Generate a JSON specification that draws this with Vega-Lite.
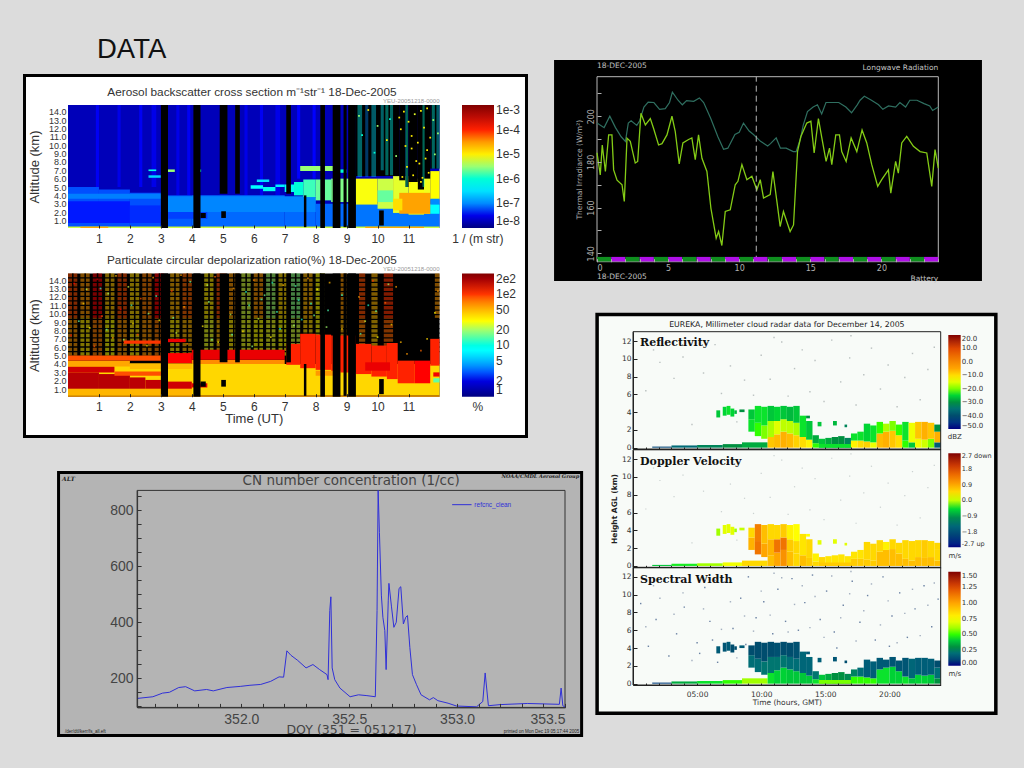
{
"$schema":"https://vega.github.io/schema/vega-lite/v6.json",
"width":1024,"height":768,"padding":0,"autosize":"none","background":"#dcdcdc",
"title":{"text":"DATA","anchor":"start","frame":"group","dx":97,"dy":67,"fontSize":27.5,"font":"Liberation Sans","fontWeight":"normal","color":"#111111"},
"config":{"view":{"stroke":null},"axis":{"grid":false,"labelFont":"Liberation Sans","titleFont":"Liberation Sans","titleFontWeight":"normal"},"legend":{"labelFont":"Liberation Sans"},"text":{"font":"Liberation Sans"}},
"datasets":{
"lb":[
{"x":0,"x2":12,"y":0.1,"y2":14.8,"v":-7.72},
{"x":0.9,"x2":1,"y":5,"y2":14.8,"v":-7.45},{"x":1.6,"x2":1.7,"y":5,"y2":14.8,"v":-7.5},{"x":2.3,"x2":2.4,"y":5,"y2":14.8,"v":-7.45},{"x":2.7,"x2":2.85,"y":5,"y2":14.8,"v":-7.5},{"x":3.5,"x2":3.6,"y":4,"y2":14.8,"v":-7.5},{"x":3.85,"x2":3.95,"y":4,"y2":14.8,"v":-7.45},{"x":5.7,"x2":5.8,"y":4,"y2":14.8,"v":-7.5},{"x":6.2,"x2":6.3,"y":4,"y2":14.8,"v":-7.45},{"x":6.7,"x2":6.85,"y":4,"y2":14.8,"v":-7.5},{"x":7.4,"x2":7.5,"y":6,"y2":14.8,"v":-7.4},{"x":7.9,"x2":8,"y":6,"y2":14.8,"v":-7.4},
{"x":0,"x2":1,"y":0.25,"y2":5,"v":-7.25},{"x":1,"x2":2,"y":0.25,"y2":4.7,"v":-7.25},{"x":2,"x2":3,"y":0.25,"y2":4.3,"v":-7.25},{"x":3,"x2":4,"y":0.25,"y2":4,"v":-7.2},{"x":4,"x2":7,"y":0.25,"y2":4,"v":-7.15},{"x":7,"x2":8,"y":0.25,"y2":3.7,"v":-7.15},{"x":8,"x2":9.3,"y":0.25,"y2":3,"v":-7.15},{"x":9.3,"x2":12,"y":0.25,"y2":3,"v":-7.1},
{"x":0,"x2":2,"y":0.7,"y2":3.3,"v":-7.38},{"x":2,"x2":3,"y":0.7,"y2":2.8,"v":-7.35},{"x":3,"x2":4.5,"y":1.2,"y2":2,"v":-7.3},
{"x":0,"x2":3,"y":3.6,"y2":4.2,"v":-7.05},{"x":3,"x2":8,"y":2,"y2":3.9,"v":-7.02},
{"x":0,"x2":12,"y":0.1,"y2":0.28,"v":-5.3},{"x":0.4,"x2":1.3,"y":0.1,"y2":0.25,"v":-4.6},{"x":9.6,"x2":11.5,"y":0.1,"y2":0.25,"v":-4.6},
{"x":2.6,"x2":2.85,"y":6.9,"y2":7.1,"v":-6.1},{"x":3.2,"x2":3.45,"y":6.8,"y2":7.1,"v":-5.5},{"x":4.1,"x2":4.3,"y":6.8,"y2":7.1,"v":-6},{"x":2.6,"x2":3,"y":6.1,"y2":6.4,"v":-6.6},
{"x":6.1,"x2":6.5,"y":5.6,"y2":5.9,"v":-6.5},{"x":5.9,"x2":6.3,"y":4.8,"y2":5.2,"v":-6.3},{"x":6.3,"x2":6.7,"y":4.5,"y2":5,"v":-6.2},{"x":6.7,"x2":7,"y":5,"y2":5.3,"v":-6.4},
{"x":7,"x2":7.3,"y":4.4,"y2":5.3,"v":-6.2},{"x":7.3,"x2":7.6,"y":4,"y2":5.6,"v":-6},{"x":7.6,"x2":8,"y":3.8,"y2":5.9,"v":-5.85},{"x":8,"x2":8.5,"y":3.4,"y2":5.9,"v":-5.7},{"x":8.5,"x2":9.3,"y":3.2,"y2":6,"v":-5.6},
{"x":7.5,"x2":8.6,"y":6.9,"y2":7.5,"v":-5.5},{"x":8.6,"x2":9,"y":6.7,"y2":7.1,"v":-6},
{"x":9.3,"x2":10,"y":2.9,"y2":6,"v":-5.12},{"x":10,"x2":10.5,"y":2.4,"y2":6,"v":-5.3},{"x":10.5,"x2":11,"y":1.9,"y2":6.3,"v":-5.2},{"x":11,"x2":11.5,"y":1.7,"y2":6,"v":-5.12},{"x":11.5,"x2":11.7,"y":1.8,"y2":6.4,"v":-5.15},{"x":11.7,"x2":12,"y":3.5,"y2":6.9,"v":-5.1},
{"x":11.7,"x2":12,"y":2.9,"y2":3.6,"v":-7},{"x":11.7,"x2":12,"y":1.8,"y2":2.9,"v":-6.3},
{"x":10,"x2":10.5,"y":3.2,"y2":4.6,"v":-5.7},{"x":10.7,"x2":11.7,"y":1.8,"y2":4.3,"v":-4.55},{"x":10.5,"x2":10.8,"y":2.2,"y2":3.6,"v":-4.9}
],
"lbd":[
{"x":9.35,"x2":9.5,"y":6.2,"y2":14.8,"v":-6.3},{"x":9.6,"x2":9.7,"y":6.2,"y2":14.8,"v":-7},{"x":9.8,"x2":9.95,"y":6.2,"y2":14.8,"v":-6.5},{"x":10.1,"x2":10.2,"y":7,"y2":14.8,"v":-6.4},{"x":10.25,"x2":10.35,"y":6.4,"y2":14.8,"v":-6.1},{"x":10.4,"x2":10.5,"y":6.4,"y2":14.8,"v":-6.2},{"x":10.9,"x2":10.98,"y":5,"y2":14.8,"v":-6},{"x":11.45,"x2":11.52,"y":5,"y2":14.8,"v":-6},{"x":11.75,"x2":11.85,"y":7.2,"y2":14.8,"v":-6.2},{"x":11.9,"x2":12,"y":7.2,"y2":14.8,"v":-6.5}
],
"lbs":[
{"x":9.4,"y":13.5,"v":-5.5},{"x":9.5,"y":11.2,"v":-6},{"x":9.7,"y":14.2,"v":-5},{"x":9.9,"y":9.1,"v":-6},{"x":10,"y":12.3,"v":-5.5},{"x":10.3,"y":10.6,"v":-5},{"x":10.4,"y":13.1,"v":-6},{"x":10.6,"y":8.7,"v":-5.5},{"x":10.75,"y":11.9,"v":-5},{"x":10.85,"y":14,"v":-5},{"x":10.95,"y":7.4,"v":-5},{"x":11,"y":12.8,"v":-5},{"x":11.1,"y":9.6,"v":-5},{"x":11.15,"y":6.4,"v":-5},{"x":11.2,"y":13.7,"v":-5.2},{"x":11.3,"y":10.3,"v":-5},{"x":11.35,"y":7.8,"v":-5},{"x":11.4,"y":5.6,"v":-5},{"x":11.5,"y":12.1,"v":-5},{"x":11.55,"y":8.4,"v":-5},{"x":11.6,"y":14.4,"v":-5},{"x":11.65,"y":6.7,"v":-5},{"x":11.7,"y":10.9,"v":-5},{"x":11.8,"y":13,"v":-5.5},{"x":11.85,"y":8.9,"v":-5.5},{"x":11.95,"y":11.4,"v":-5.5},{"x":10.8,"y":6.2,"v":-5},{"x":10.9,"y":9.9,"v":-5},{"x":11.05,"y":5.5,"v":-5},{"x":11.25,"y":8.1,"v":-5},{"x":11.45,"y":6.1,"v":-5},{"x":10.7,"y":13.3,"v":-5},{"x":11.1,"y":11.1,"v":-5},{"x":11.4,"y":14.1,"v":-5},{"x":11.6,"y":9.4,"v":-5}
],
"black":[
{"x":3,"x2":3.23,"y":0.1,"y2":14.8},{"x":4.05,"x2":4.28,"y":0.1,"y2":14.8},{"x":4.9,"x2":5.15,"y":4.2,"y2":14.8},{"x":5.4,"x2":5.55,"y":4.2,"y2":14.8},{"x":7.05,"x2":7.2,"y":4.2,"y2":14.8},{"x":7.62,"x2":7.7,"y":0.2,"y2":4},{"x":8.15,"x2":8.3,"y":0.1,"y2":14.8},{"x":8.55,"x2":8.8,"y":0.1,"y2":14.8},{"x":8.9,"x2":9,"y":0.2,"y2":14.8},{"x":9.05,"x2":9.3,"y":0.1,"y2":14.8},{"x":10.05,"x2":10.2,"y":0.4,"y2":2.2},{"x":4.28,"x2":4.45,"y":1.3,"y2":1.9},{"x":4.95,"x2":5.1,"y":1.3,"y2":2.1}
],
"blackR":[{"x":9.3,"x2":10.7,"y":6.3,"y2":14.8},{"x":10.7,"x2":10.9,"y":5.8,"y2":14.8},{"x":10.9,"x2":11,"y":5,"y2":14.8},{"x":11,"x2":11.3,"y":5.6,"y2":14.8},{"x":11.3,"x2":11.5,"y":4.7,"y2":14.8},{"x":11.5,"x2":11.7,"y":6,"y2":14.8},{"x":11.7,"x2":12,"y":7.2,"y2":14.8}],
"hatch":[
{"x":0.13,"x2":0.18,"y":5,"y2":14.8},{"x":0.53,"x2":0.58,"y":5,"y2":14.8},{"x":0.93,"x2":0.98,"y":5,"y2":14.8},{"x":1.33,"x2":1.38,"y":5,"y2":14.8},{"x":1.73,"x2":1.78,"y":5,"y2":14.8},{"x":2.13,"x2":2.18,"y":5,"y2":14.8},{"x":2.53,"x2":2.58,"y":5,"y2":14.8},{"x":2.93,"x2":2.98,"y":5,"y2":14.8},{"x":3.43,"x2":3.48,"y":5,"y2":14.8},{"x":3.83,"x2":3.88,"y":5,"y2":14.8},{"x":4.53,"x2":4.58,"y":5,"y2":14.8},{"x":5.33,"x2":5.38,"y":5,"y2":14.8},{"x":5.73,"x2":5.78,"y":5,"y2":14.8},{"x":6.13,"x2":6.18,"y":5,"y2":14.8},{"x":6.53,"x2":6.58,"y":5,"y2":14.8},{"x":6.93,"x2":6.98,"y":5,"y2":14.8},{"x":7.33,"x2":7.38,"y":5,"y2":14.8},{"x":7.73,"x2":7.78,"y":5,"y2":14.8},{"x":8.13,"x2":8.18,"y":5,"y2":14.8},
{"x":0,"x2":12,"y":5.4,"y2":5.55},{"x":0,"x2":12,"y":5.95,"y2":6.1},{"x":0,"x2":12,"y":6.5,"y2":6.65},{"x":0,"x2":12,"y":7.05,"y2":7.2},{"x":0,"x2":12,"y":7.6,"y2":7.75},{"x":0,"x2":12,"y":8.15,"y2":8.3},{"x":0,"x2":12,"y":8.7,"y2":8.85},{"x":0,"x2":12,"y":9.25,"y2":9.4},{"x":0,"x2":12,"y":9.8,"y2":9.95},{"x":0,"x2":12,"y":10.35,"y2":10.5},{"x":0,"x2":12,"y":10.9,"y2":11.05},{"x":0,"x2":12,"y":11.45,"y2":11.6},{"x":0,"x2":12,"y":12,"y2":12.15},{"x":0,"x2":12,"y":12.55,"y2":12.7},{"x":0,"x2":12,"y":13.1,"y2":13.25},{"x":0,"x2":12,"y":13.65,"y2":13.8},{"x":0,"x2":12,"y":14.2,"y2":14.35}
],
"pdd":[
{"x":0,"x2":0.3,"y":9.5,"y2":14.8,"v":90},{"x":0.4,"x2":0.7,"y":9.5,"y2":14.8,"v":60},{"x":0.8,"x2":1.1,"y":9.5,"y2":14.8,"v":120},{"x":1.2,"x2":1.5,"y":9.5,"y2":14.8,"v":45},{"x":1.6,"x2":1.9,"y":9.5,"y2":14.8,"v":90},{"x":2,"x2":2.3,"y":9.5,"y2":14.8,"v":40},{"x":2.4,"x2":2.7,"y":9.5,"y2":14.8,"v":70},{"x":2.8,"x2":3.1,"y":9.5,"y2":14.8,"v":110},{"x":3.3,"x2":3.6,"y":9.5,"y2":14.8,"v":50},{"x":3.7,"x2":4,"y":9.5,"y2":14.8,"v":80},{"x":4.4,"x2":4.7,"y":9.5,"y2":14.8,"v":35},{"x":4.8,"x2":5.1,"y":9.5,"y2":14.8,"v":90},{"x":5.2,"x2":5.5,"y":9.5,"y2":14.8,"v":60},{"x":5.6,"x2":5.9,"y":9.5,"y2":14.8,"v":25},{"x":6,"x2":6.3,"y":9.5,"y2":14.8,"v":60},{"x":6.4,"x2":6.7,"y":9.5,"y2":14.8,"v":20},{"x":6.8,"x2":7.1,"y":9.5,"y2":14.8,"v":40},{"x":7.2,"x2":7.5,"y":9.5,"y2":14.8,"v":18},{"x":7.6,"x2":7.9,"y":9.5,"y2":14.8,"v":50},{"x":8,"x2":8.3,"y":9.5,"y2":14.8,"v":30},{"x":8.8,"x2":9,"y":9.5,"y2":14.8,"v":60},{"x":9.4,"x2":9.6,"y":9.5,"y2":14.8,"v":90},{"x":9.8,"x2":10,"y":9.5,"y2":14.8,"v":50},{"x":10.2,"x2":10.5,"y":9.5,"y2":14.8,"v":100},{"x":11.85,"x2":12,"y":9.5,"y2":14.8,"v":60},
{"x":0,"x2":0.3,"y":5,"y2":9.5,"v":60},{"x":0.4,"x2":0.7,"y":5,"y2":9.5,"v":35},{"x":0.8,"x2":1.1,"y":5,"y2":9.5,"v":70},{"x":1.2,"x2":1.5,"y":5,"y2":9.5,"v":30},{"x":1.6,"x2":1.9,"y":5,"y2":9.5,"v":60},{"x":2,"x2":2.3,"y":5,"y2":9.5,"v":35},{"x":2.4,"x2":2.7,"y":5,"y2":9.5,"v":60},{"x":2.8,"x2":3.1,"y":5,"y2":9.5,"v":70},{"x":3.3,"x2":3.6,"y":5,"y2":9.5,"v":35},{"x":3.7,"x2":4,"y":5,"y2":9.5,"v":50},{"x":4.4,"x2":4.7,"y":5,"y2":9.5,"v":28},{"x":4.8,"x2":5.1,"y":5,"y2":9.5,"v":50},{"x":5.2,"x2":5.5,"y":5,"y2":9.5,"v":35},{"x":5.6,"x2":5.9,"y":5,"y2":9.5,"v":28},{"x":6,"x2":6.3,"y":5,"y2":9.5,"v":30},{"x":6.4,"x2":6.7,"y":5,"y2":9.5,"v":28},{"x":6.8,"x2":7.1,"y":5,"y2":9.5,"v":30},{"x":7.2,"x2":7.5,"y":6,"y2":9.5,"v":25},{"x":7.6,"x2":7.9,"y":7,"y2":9.5,"v":40},{"x":8,"x2":8.3,"y":7,"y2":9.5,"v":30},{"x":8.8,"x2":9,"y":7,"y2":9.5,"v":50},{"x":9.4,"x2":9.6,"y":6,"y2":9.5,"v":70},{"x":9.8,"x2":10,"y":6,"y2":9.5,"v":45},{"x":10.2,"x2":10.5,"y":6,"y2":9.5,"v":80}
],
"pd":[
{"x":0,"x2":12,"y":0.25,"y2":4,"v":40},{"x":0,"x2":12,"y":0.1,"y2":0.25,"v":60},{"x":0,"x2":4,"y":0.25,"y2":1.05,"v":50},
{"x":0,"x2":1,"y":1.05,"y2":3,"v":175},{"x":1,"x2":2,"y":1.05,"y2":2.8,"v":175},{"x":2,"x2":2.5,"y":1.05,"y2":2.4,"v":170},{"x":2.5,"x2":3,"y":1.05,"y2":2.1,"v":165},{"x":3,"x2":4,"y":1.05,"y2":1.9,"v":150},{"x":4,"x2":4.5,"y":1.2,"y2":1.7,"v":130},
{"x":0,"x2":1.5,"y":3,"y2":3.7,"v":150},{"x":1.5,"x2":3,"y":2.6,"y2":3.1,"v":90},{"x":0,"x2":2,"y":3.7,"y2":4.4,"v":55},{"x":2,"x2":4,"y":3.4,"y2":4.1,"v":48},
{"x":0,"x2":3,"y":4.4,"y2":5,"v":90},{"x":3,"x2":4,"y":4.1,"y2":5.3,"v":110},{"x":4,"x2":7,"y":4,"y2":4.5,"v":65},{"x":4,"x2":7,"y":4.5,"y2":5.7,"v":125},{"x":3,"x2":3.8,"y":6.6,"y2":7,"v":120},{"x":1.8,"x2":3,"y":6.4,"y2":6.8,"v":100},
{"x":7.05,"x2":7.5,"y":3.9,"y2":6.4,"v":105},{"x":7.5,"x2":8,"y":3.5,"y2":7.6,"v":105},{"x":8,"x2":8.5,"y":3.3,"y2":7.5,"v":105},{"x":8.5,"x2":9.3,"y":3,"y2":7.4,"v":105},{"x":9.3,"x2":9.8,"y":2.8,"y2":6.4,"v":105},{"x":9.8,"x2":10.3,"y":2.5,"y2":6.2,"v":105},{"x":10.3,"x2":10.65,"y":2.2,"y2":6.5,"v":105},{"x":10.65,"x2":11.2,"y":1.7,"y2":4.4,"v":105},{"x":11.2,"x2":11.7,"y":1.7,"y2":4.4,"v":110},{"x":11.7,"x2":12,"y":3.8,"y2":7,"v":105},
{"x":9.6,"x2":10.4,"y":3.2,"y2":4.2,"v":125},{"x":8,"x2":8.8,"y":2.6,"y2":3.2,"v":60},{"x":11.8,"x2":12,"y":2.5,"y2":3,"v":120},{"x":11.8,"x2":12,"y":1.8,"y2":2.3,"v":15}
],
"pds":[
{"x":0.2,"y":13.6,"v":110},{"x":0.5,"y":11.2,"v":40},{"x":0.7,"y":8.3,"v":30},{"x":0.95,"y":14.1,"v":150},{"x":1.1,"y":9.7,"v":90},{"x":1.3,"y":12.4,"v":20},{"x":1.45,"y":7.1,"v":60},{"x":1.7,"y":10.5,"v":110},{"x":1.95,"y":13.2,"v":25},{"x":2.1,"y":8.8,"v":35},{"x":2.35,"y":11.8,"v":90},{"x":2.55,"y":6.2,"v":40},{"x":2.75,"y":14.3,"v":60},{"x":2.95,"y":9.2,"v":30},{"x":3.35,"y":12.7,"v":100},{"x":3.5,"y":7.7,"v":25},{"x":3.75,"y":10.8,"v":60},{"x":3.95,"y":13.8,"v":15},{"x":4.35,"y":8.5,"v":35},{"x":4.55,"y":11.4,"v":18},{"x":4.75,"y":14.4,"v":80},{"x":4.85,"y":6.6,"v":30},{"x":5.25,"y":9.9,"v":22},{"x":5.35,"y":13,"v":60},{"x":5.65,"y":7.9,"v":40},{"x":5.85,"y":11,"v":14},{"x":6,"y":14,"v":70},{"x":6.15,"y":9.4,"v":25},{"x":6.35,"y":12.2,"v":16},{"x":6.55,"y":7.2,"v":35},{"x":6.75,"y":10.2,"v":13},{"x":6.95,"y":13.4,"v":50},{"x":7.3,"y":8.6,"v":20},{"x":7.45,"y":11.6,"v":12},{"x":7.75,"y":14.2,"v":60},{"x":7.95,"y":9.8,"v":16},{"x":8.05,"y":12.9,"v":30},{"x":8.4,"y":10.4,"v":14},{"x":8.45,"y":13.7,"v":50},{"x":8.85,"y":8.2,"v":45},{"x":9.4,"y":12,"v":60},{"x":9.6,"y":9.1,"v":25},{"x":9.85,"y":13.9,"v":100},{"x":10,"y":7.2,"v":30},{"x":10.25,"y":11.3,"v":80},{"x":10.45,"y":8.7,"v":40},{"x":10.6,"y":13.2,"v":60},{"x":10.75,"y":6.6,"v":50},{"x":10.95,"y":5.2,"v":60},{"x":11.4,"y":5.6,"v":80},{"x":11.6,"y":7,"v":40},{"x":11.85,"y":10.1,"v":30},{"x":11.95,"y":12.7,"v":60},
{"x":0.1,"y":7.4,"v":130},{"x":0.35,"y":9.1,"v":15},{"x":0.6,"y":12.9,"v":22},{"x":0.85,"y":6.1,"v":90},{"x":1.05,"y":13,"v":12},{"x":1.25,"y":8.1,"v":15},{"x":1.55,"y":14.5,"v":50},{"x":1.8,"y":6.9,"v":20},{"x":2.05,"y":11,"v":14},{"x":2.25,"y":7.5,"v":100},{"x":2.6,"y":10,"v":18},{"x":2.85,"y":12.1,"v":14},{"x":3.4,"y":9.5,"v":16},{"x":3.65,"y":14.6,"v":60},{"x":3.85,"y":6.4,"v":70},{"x":4.5,"y":13.4,"v":22},{"x":4.65,"y":6.9,"v":16},{"x":5.3,"y":7.5,"v":14},{"x":5.75,"y":12.6,"v":12},{"x":5.95,"y":6.1,"v":18},{"x":6.25,"y":11.7,"v":12},{"x":6.6,"y":13.7,"v":12},{"x":6.85,"y":8.2,"v":10},{"x":7.35,"y":13.3,"v":14},{"x":7.55,"y":9.3,"v":10},{"x":7.85,"y":11.2,"v":10},{"x":8.35,"y":8.4,"v":20},{"x":8.85,"y":12.2,"v":12},{"x":9.45,"y":7.6,"v":14},{"x":9.7,"y":11,"v":12},{"x":9.95,"y":10.3,"v":15},{"x":10.35,"y":13.5,"v":20}
],
"cloud":[
{"x":1.5,"x2":3,"y":0,"y2":0.12,"r":-42,"d":-0.6,"w":0.08},{"x":3,"x2":5,"y":0,"y2":0.25,"r":-36,"d":-0.4,"w":0.35},{"x":5,"x2":7,"y":0,"y2":0.3,"r":-32,"d":-0.1,"w":0.45},{"x":7,"x2":8.5,"y":0,"y2":0.4,"r":-30,"d":0.15,"w":0.5},{"x":8.5,"x2":10.5,"y":0,"y2":0.6,"r":-28,"d":0.5,"w":0.6},
{"x":6.5,"x2":6.8,"y":3.4,"y2":4.2,"r":-26,"d":-0.1,"w":0.15},{"x":7,"x2":7.3,"y":3.6,"y2":4.6,"r":-25,"d":0.1,"w":0.14},{"x":7.3,"x2":7.6,"y":3.7,"y2":4.7,"r":-24,"d":0.1,"w":0.15},{"x":7.6,"x2":7.9,"y":3.5,"y2":4.4,"r":-25,"d":0.1,"w":0.12},{"x":7.9,"x2":8.1,"y":3.8,"y2":4.2,"r":-27,"d":-0.1,"w":0.12},{"x":8.3,"x2":8.7,"y":4,"y2":4.3,"r":-30,"d":0,"w":0.15},
{"x":9,"x2":9.5,"y":1.8,"y2":3.2,"r":-24,"d":0.8,"w":0.2},{"x":9,"x2":9.5,"y":3.2,"y2":4.3,"r":-26,"d":0.5,"w":0.12},
{"x":9.5,"x2":10,"y":1.3,"y2":2.8,"r":-22,"d":1.4,"w":0.2},{"x":9.5,"x2":10,"y":2.8,"y2":4.7,"r":-24,"d":1.3,"w":0.12},
{"x":10,"x2":10.5,"y":1,"y2":2.5,"r":-20,"d":0.9,"w":0.22},{"x":10,"x2":10.5,"y":2.5,"y2":4.6,"r":-24,"d":0.7,"w":0.12},
{"x":10.5,"x2":11,"y":0,"y2":1.2,"r":-8,"d":0.7,"w":0.45},{"x":10.5,"x2":11,"y":1.2,"y2":3,"r":-18,"d":0.8,"w":0.22},{"x":10.5,"x2":11,"y":3,"y2":4.7,"r":-26,"d":0.5,"w":0.12},
{"x":11,"x2":11.5,"y":0,"y2":1.5,"r":-7,"d":0.9,"w":0.42},{"x":11,"x2":11.5,"y":1.5,"y2":3,"r":-15,"d":1.4,"w":0.22},{"x":11,"x2":11.5,"y":3,"y2":4.6,"r":-25,"d":0.5,"w":0.13},
{"x":11.5,"x2":12,"y":0,"y2":1.8,"r":-6,"d":1.1,"w":0.42},{"x":11.5,"x2":12,"y":1.8,"y2":3.2,"r":-17,"d":1.4,"w":0.22},{"x":11.5,"x2":12,"y":3.2,"y2":4.7,"r":-26,"d":0.6,"w":0.12},
{"x":12,"x2":12.5,"y":0,"y2":1.6,"r":-7,"d":0.7,"w":0.4},{"x":12,"x2":12.5,"y":1.6,"y2":3,"r":-17,"d":0.6,"w":0.2},{"x":12,"x2":12.5,"y":3,"y2":4.6,"r":-27,"d":0.3,"w":0.12},
{"x":12.5,"x2":13,"y":0,"y2":1.4,"r":-9,"d":0.5,"w":0.4},{"x":12.5,"x2":13,"y":1.4,"y2":2.8,"r":-18,"d":0.5,"w":0.2},{"x":12.5,"x2":13,"y":2.8,"y2":4.7,"r":-26,"d":0.2,"w":0.13},
{"x":13,"x2":13.5,"y":0,"y2":1.2,"r":-10,"d":0.7,"w":0.4},{"x":13,"x2":13.5,"y":1.2,"y2":3.6,"r":-24,"d":0.4,"w":0.18},
{"x":13.5,"x2":14,"y":0,"y2":0.9,"r":-12,"d":0.6,"w":0.4},{"x":13.5,"x2":14,"y":0.9,"y2":3,"r":-26,"d":0.5,"w":0.18},
{"x":14,"x2":14.5,"y":0,"y2":0.5,"r":-22,"d":0.5,"w":0.45},{"x":14,"x2":14.5,"y":0.5,"y2":1.4,"r":-28,"d":0.3,"w":0.22},
{"x":14.5,"x2":15,"y":0,"y2":1,"r":-26,"d":0.5,"w":0.4},{"x":15,"x2":15.5,"y":0,"y2":1.1,"r":-28,"d":0.4,"w":0.35},{"x":15.5,"x2":16,"y":0,"y2":1.2,"r":-30,"d":0.4,"w":0.3},{"x":16,"x2":16.5,"y":0,"y2":1.3,"r":-30,"d":0.4,"w":0.3},{"x":16.5,"x2":17,"y":0,"y2":1.1,"r":-32,"d":0.4,"w":0.28},
{"x":14.5,"x2":17,"y":0,"y2":0.4,"r":-24,"d":0.6,"w":0.55},
{"x":17,"x2":17.5,"y":0,"y2":0.8,"r":-12,"d":0.6,"w":0.5},{"x":17,"x2":17.5,"y":0.8,"y2":1.6,"r":-24,"d":0.4,"w":0.25},
{"x":17.5,"x2":18,"y":0,"y2":0.8,"r":-10,"d":0.6,"w":0.5},{"x":17.5,"x2":18,"y":0.8,"y2":1.8,"r":-24,"d":0.4,"w":0.2},
{"x":18,"x2":18.5,"y":0,"y2":0.7,"r":-9,"d":0.6,"w":0.5},{"x":18,"x2":18.5,"y":0.7,"y2":2.7,"r":-25,"d":0.5,"w":0.16},
{"x":18.5,"x2":19,"y":0,"y2":0.6,"r":-14,"d":0.6,"w":0.5},{"x":18.5,"x2":19,"y":0.6,"y2":2.5,"r":-24,"d":0.5,"w":0.16},
{"x":19,"x2":19.5,"y":0,"y2":1.6,"r":-7,"d":0.7,"w":0.45},{"x":19,"x2":19.5,"y":1.6,"y2":2.9,"r":-22,"d":0.5,"w":0.15},
{"x":19.5,"x2":20,"y":0,"y2":1.8,"r":-6,"d":0.7,"w":0.45},{"x":19.5,"x2":20,"y":1.8,"y2":2.7,"r":-18,"d":0.3,"w":0.15},
{"x":20,"x2":20.5,"y":0,"y2":1.9,"r":-8,"d":0.7,"w":0.42},{"x":20,"x2":20.5,"y":1.9,"y2":3,"r":-20,"d":0.5,"w":0.14},
{"x":20.5,"x2":21,"y":0,"y2":1.4,"r":-10,"d":0.7,"w":0.42},{"x":20.5,"x2":21,"y":1.4,"y2":2.6,"r":-22,"d":0.5,"w":0.14},
{"x":21,"x2":21.5,"y":0,"y2":0.8,"r":-22,"d":0.7,"w":0.45},{"x":21,"x2":21.5,"y":0.8,"y2":2.9,"r":-24,"d":0.5,"w":0.14},
{"x":21.5,"x2":22,"y":0,"y2":0.6,"r":-26,"d":0.7,"w":0.4},{"x":21.5,"x2":22,"y":0.6,"y2":2.8,"r":-14,"d":0.5,"w":0.18},
{"x":22,"x2":22.5,"y":0,"y2":1,"r":-14,"d":0.7,"w":0.42},{"x":22,"x2":22.5,"y":1,"y2":2.9,"r":-8,"d":0.5,"w":0.16},
{"x":22.5,"x2":23,"y":0,"y2":0.9,"r":-16,"d":0.7,"w":0.42},{"x":22.5,"x2":23,"y":0.9,"y2":2.9,"r":-6,"d":0.6,"w":0.16},
{"x":23,"x2":23.5,"y":0,"y2":1,"r":-20,"d":0.7,"w":0.4},{"x":23,"x2":23.5,"y":1,"y2":2.8,"r":-8,"d":0.5,"w":0.16},
{"x":23.5,"x2":24,"y":0,"y2":0.6,"r":-38,"d":0.7,"w":0.3},{"x":23.5,"x2":24,"y":0.6,"y2":1.8,"r":-6,"d":0.5,"w":0.2},{"x":23.5,"x2":24,"y":1.8,"y2":2.6,"r":-30,"d":0.5,"w":0.12},
{"x":13.5,"x2":13.8,"y":3.3,"y2":3.6,"r":-30,"d":0.2,"w":0.15},{"x":14.4,"x2":14.7,"y":2.4,"y2":2.9,"r":-26,"d":0.1,"w":0.16},{"x":15.6,"x2":15.9,"y":2.5,"y2":3,"r":-27,"d":0.1,"w":0.14},{"x":16.5,"x2":16.7,"y":2.3,"y2":2.6,"r":-32,"d":0.1,"w":0.12}
],
"dots":[
{"x":2.1,"y":9.6},{"x":3.2,"y":7.8},{"x":3.9,"y":10.2},{"x":4.6,"y":2.6},{"x":5.5,"y":8.4},{"x":6.4,"y":11.6},{"x":6.9,"y":6.1},{"x":7.6,"y":9.2},{"x":8.1,"y":2.9},{"x":8.7,"y":7.6},{"x":9.4,"y":5.9},{"x":10,"y":10.4},{"x":10.7,"y":7.7},{"x":11.6,"y":11.9},{"x":12.1,"y":5.8},{"x":12.6,"y":8.9},{"x":13.2,"y":11},{"x":13.8,"y":6.3},{"x":14.2,"y":9.8},{"x":14.9,"y":5.2},{"x":15.5,"y":12.1},{"x":16.2,"y":7.4},{"x":16.9,"y":10.1},{"x":17.4,"y":4.8},{"x":18,"y":8.2},{"x":18.6,"y":11.2},{"x":19.3,"y":6.6},{"x":19.9,"y":9.3},{"x":20.6,"y":4.6},{"x":21.2,"y":7.9},{"x":21.8,"y":10.6},{"x":22.4,"y":5.4},{"x":23,"y":8.8},{"x":23.5,"y":11.3},{"x":1,"y":6.4},{"x":1.6,"y":11},{"x":11,"y":12.4},{"x":17,"y":12.6}
],
"dots2":[
{"x":0.6,"y":9},{"x":1.2,"y":4.2},{"x":1.8,"y":7.2},{"x":2.4,"y":11.5},{"x":2.8,"y":3.1},{"x":3.4,"y":5.6},{"x":4,"y":8.6},{"x":4.4,"y":12.2},{"x":5,"y":4.6},{"x":5.6,"y":10.8},{"x":6,"y":7},{"x":6.6,"y":2.4},{"x":7.2,"y":11.4},{"x":7.8,"y":6.2},{"x":8.4,"y":9.6},{"x":9,"y":12},{"x":9.6,"y":7.4},{"x":10.2,"y":9.2},{"x":10.9,"y":5.6},{"x":11.3,"y":10.6},{"x":11.9,"y":7},{"x":12.4,"y":11.8},{"x":12.9,"y":6},{"x":13.4,"y":9.1},{"x":14,"y":12.2},{"x":14.6,"y":7.2},{"x":15.1,"y":10.4},{"x":15.7,"y":5.8},{"x":16.4,"y":8.8},{"x":17.1,"y":11.5},{"x":17.7,"y":6.9},{"x":18.3,"y":9.9},{"x":18.9,"y":4.9},{"x":19.5,"y":12},{"x":20.2,"y":7.6},{"x":20.8,"y":10.2},{"x":21.4,"y":5.2},{"x":22,"y":8.4},{"x":22.7,"y":11},{"x":23.3,"y":6.4},{"x":23.8,"y":9.5},{"x":8.8,"y":4.4},{"x":6.2,"y":4.9},{"x":5.2,"y":3.4},{"x":15.9,"y":4},{"x":20,"y":4.2}
],
"upper":[
{"x":0,"y":197},{"x":0.5,"y":195},{"x":0.9,"y":200},{"x":1.3,"y":195},{"x":1.7,"y":191},{"x":2,"y":189},{"x":2.2,"y":197},{"x":2.4,"y":198},{"x":2.8,"y":196},{"x":3,"y":198},{"x":3.3,"y":204},{"x":3.6,"y":206.2},{"x":4,"y":206},{"x":4.4,"y":203},{"x":4.8,"y":203.3},{"x":5.1,"y":206},{"x":5.3,"y":210.5},{"x":5.7,"y":207},{"x":6,"y":205},{"x":6.3,"y":206.8},{"x":6.8,"y":206.5},{"x":7.2,"y":208},{"x":7.5,"y":206},{"x":8,"y":199},{"x":8.5,"y":191},{"x":8.9,"y":185.5},{"x":9.2,"y":186},{"x":9.7,"y":192},{"x":10,"y":193},{"x":10.3,"y":197},{"x":10.7,"y":193.5},{"x":11,"y":192},{"x":11.5,"y":189},{"x":12,"y":187},{"x":12.2,"y":188},{"x":12.6,"y":190.5},{"x":12.9,"y":186},{"x":13.3,"y":186},{"x":13.8,"y":184.5},{"x":14,"y":184.5},{"x":14.3,"y":190},{"x":14.5,"y":196},{"x":14.8,"y":202},{"x":15.2,"y":204},{"x":15.5,"y":205},{"x":15.8,"y":201},{"x":16.1,"y":206},{"x":16.5,"y":206},{"x":17,"y":206},{"x":17.5,"y":204},{"x":17.9,"y":201.5},{"x":18.3,"y":205},{"x":18.5,"y":207},{"x":18.8,"y":208.7},{"x":19.3,"y":207},{"x":19.8,"y":205},{"x":20.1,"y":203},{"x":20.5,"y":204.5},{"x":21,"y":204},{"x":21.3,"y":206},{"x":21.7,"y":204},{"x":22,"y":207},{"x":22.5,"y":207},{"x":23,"y":205.5},{"x":23.4,"y":204.5},{"x":23.6,"y":202.5},{"x":24,"y":204}
],
"lower":[
{"x":0,"y":184},{"x":0.23,"y":174.3},{"x":0.37,"y":187.4},{"x":0.59,"y":175.8},{"x":0.82,"y":191.8},{"x":1.05,"y":191.8},{"x":1.17,"y":176.5},{"x":1.41,"y":172},{"x":1.76,"y":170},{"x":1.92,"y":162.7},{"x":2.11,"y":190.4},{"x":2.34,"y":189},{"x":2.69,"y":179.5},{"x":2.86,"y":180.2},{"x":3.09,"y":201.3},{"x":3.4,"y":196.2},{"x":3.75,"y":199},{"x":3.98,"y":194.6},{"x":4.33,"y":187.4},{"x":4.57,"y":188},{"x":4.92,"y":191.8},{"x":5.27,"y":200},{"x":5.5,"y":193.4},{"x":5.78,"y":179.1},{"x":6.04,"y":188.3},{"x":6.44,"y":189.8},{"x":6.67,"y":190.5},{"x":6.91,"y":181},{"x":7.14,"y":191.8},{"x":7.38,"y":181.6},{"x":7.73,"y":175.8},{"x":8.01,"y":159.7},{"x":8.38,"y":146.6},{"x":8.55,"y":149.5},{"x":8.78,"y":143.4},{"x":9.02,"y":158.3},{"x":9.37,"y":159},{"x":9.72,"y":170},{"x":9.91,"y":171.5},{"x":10.19,"y":178.8},{"x":10.54,"y":172.2},{"x":10.89,"y":173.7},{"x":11.24,"y":167.8},{"x":11.48,"y":172.2},{"x":11.71,"y":164.2},{"x":12.18,"y":165.7},{"x":12.37,"y":175.8},{"x":12.65,"y":162.7},{"x":12.88,"y":151.7},{"x":13.11,"y":158.3},{"x":13.58,"y":149.5},{"x":13.82,"y":152.4},{"x":14.1,"y":184.5},{"x":14.33,"y":191},{"x":14.75,"y":197},{"x":15.04,"y":197.8},{"x":15.27,"y":183.9},{"x":15.57,"y":199},{"x":15.81,"y":190.5},{"x":16.11,"y":180.2},{"x":16.35,"y":186},{"x":16.51,"y":178.8},{"x":16.79,"y":191.8},{"x":17.05,"y":191.8},{"x":17.21,"y":184.5},{"x":17.52,"y":180.2},{"x":17.87,"y":190.5},{"x":18.27,"y":184.5},{"x":18.64,"y":194},{"x":18.97,"y":188.3},{"x":19.32,"y":178.8},{"x":19.74,"y":169.3},{"x":20.02,"y":172.2},{"x":20.49,"y":176.5},{"x":20.66,"y":166.3},{"x":21,"y":180.2},{"x":21.19,"y":175.1},{"x":21.43,"y":188.3},{"x":21.78,"y":191.2},{"x":22.25,"y":186.8},{"x":22.72,"y":184.5},{"x":23.19,"y":183.9},{"x":23.54,"y":169.3},{"x":23.77,"y":185.4},{"x":24,"y":177.3}
],
"strip":[
{"x":0,"x2":1,"y":136.4,"y2":138.4,"s":"on"},{"x":1,"x2":2,"y":136.4,"y2":138.4,"s":"off"},{"x":2,"x2":3,"y":136.4,"y2":138.4,"s":"on"},{"x":3,"x2":4,"y":136.4,"y2":138.4,"s":"off"},{"x":4,"x2":5,"y":136.4,"y2":138.4,"s":"on"},{"x":5,"x2":6,"y":136.4,"y2":138.4,"s":"off"},{"x":6,"x2":7,"y":136.4,"y2":138.4,"s":"on"},{"x":7,"x2":8,"y":136.4,"y2":138.4,"s":"off"},{"x":8,"x2":9,"y":136.4,"y2":138.4,"s":"on"},{"x":9,"x2":10,"y":136.4,"y2":138.4,"s":"off"},{"x":10,"x2":11,"y":136.4,"y2":138.4,"s":"on"},{"x":11,"x2":12,"y":136.4,"y2":138.4,"s":"off"},{"x":12,"x2":13,"y":136.4,"y2":138.4,"s":"on"},{"x":13,"x2":14,"y":136.4,"y2":138.4,"s":"off"},{"x":14,"x2":15,"y":136.4,"y2":138.4,"s":"on"},{"x":15,"x2":16,"y":136.4,"y2":138.4,"s":"off"},{"x":16,"x2":17,"y":136.4,"y2":138.4,"s":"on"},{"x":17,"x2":18,"y":136.4,"y2":138.4,"s":"off"},{"x":18,"x2":19,"y":136.4,"y2":138.4,"s":"on"},{"x":19,"x2":20,"y":136.4,"y2":138.4,"s":"off"},{"x":20,"x2":21,"y":136.4,"y2":138.4,"s":"on"},{"x":21,"x2":22,"y":136.4,"y2":138.4,"s":"off"},{"x":22,"x2":23,"y":136.4,"y2":138.4,"s":"on"},{"x":23,"x2":24,"y":136.4,"y2":138.4,"s":"off"}
],
"cn":[
{"x":351.517,"y":128},{"x":351.59,"y":134},{"x":351.635,"y":147},{"x":351.667,"y":150},{"x":351.71,"y":167},{"x":351.742,"y":170},{"x":351.784,"y":155},{"x":351.839,"y":160},{"x":351.87,"y":155},{"x":351.933,"y":167},{"x":351.995,"y":171},{"x":352.04,"y":175},{"x":352.09,"y":178},{"x":352.136,"y":189},{"x":352.175,"y":205},{"x":352.196,"y":204},{"x":352.211,"y":298},{"x":352.23,"y":282},{"x":352.261,"y":264},{"x":352.3,"y":237},{"x":352.332,"y":249},{"x":352.363,"y":231},{"x":352.397,"y":213},{"x":352.402,"y":195},{"x":352.41,"y":442},{"x":352.415,"y":491},{"x":352.421,"y":237},{"x":352.433,"y":195},{"x":352.457,"y":165},{"x":352.504,"y":134},{"x":352.543,"y":141},{"x":352.582,"y":138},{"x":352.621,"y":134},{"x":352.629,"y":442},{"x":352.634,"y":871},{"x":352.64,"y":720},{"x":352.649,"y":497},{"x":352.656,"y":418},{"x":352.665,"y":370},{"x":352.671,"y":231},{"x":352.681,"y":479},{"x":352.684,"y":539},{"x":352.696,"y":455},{"x":352.707,"y":382},{"x":352.718,"y":400},{"x":352.731,"y":521},{"x":352.739,"y":527},{"x":352.751,"y":394},{"x":352.762,"y":418},{"x":352.77,"y":424},{"x":352.781,"y":310},{"x":352.793,"y":213},{"x":352.812,"y":177},{"x":352.833,"y":141},{"x":352.872,"y":123},{"x":352.89,"y":131},{"x":352.911,"y":120},{"x":352.958,"y":111},{"x":352.997,"y":101},{"x":353.09,"y":98},{"x":353.119,"y":117},{"x":353.13,"y":219},{"x":353.145,"y":102},{"x":353.2,"y":106},{"x":353.325,"y":110},{"x":353.474,"y":107},{"x":353.482,"y":165},{"x":353.49,"y":102},{"x":353.5,"y":97}
]
},
"resolve":{"scale":{"x":"independent","y":"independent","color":"independent"}},
"layer":[
{"encoding":{
"x":{"field":"x","type":"quantitative","scale":{"domain":[0,12],"range":[68,439.5],"nice":false},"axis":{"zindex":1,"orient":"bottom","offset":-540,"values":[1,2,3,4,5,6,7,8,9,10,11],"title":null,"domain":false,"tickSize":-3,"labelPadding":8,"labelFontSize":12,"labelColor":"#333333","tickColor":"#222222"}},
"y":{"field":"y","type":"quantitative","scale":{"domain":[0.1,14.8],"range":[228,105],"nice":false},"axis":{"zindex":1,"orient":"left","offset":-68,"values":[1,2,3,4,5,6,7,8,9,10,11,12,13,14],"format":".1f","labelOverlap":false,"title":"Altitude (km)","titleFontSize":13,"titleColor":"#333333","titlePadding":7,"domain":false,"ticks":false,"labelPadding":2,"labelFontSize":9,"labelColor":"#333333"}}},
"layer":[
{"data":{"values":[{"x":-1.405,"x2":14.81,"y":-24.82,"y2":18.33}]},"mark":{"type":"rect","fill":"#ffffff","stroke":"#000000","strokeWidth":3},"encoding":{"x2":{"field":"x2"},"y2":{"field":"y2"}}},
{"data":{"name":"lb"},"mark":"rect","encoding":{"x2":{"field":"x2"},"y2":{"field":"y2"},"color":{"field":"v","type":"quantitative","scale":{"domain":[-8,-7.4,-6.3,-5.1,-4,-3],"range":["#000080","#0000ff","#00ffff","#ffff00","#ff2000","#800000"]},"legend":{"type":"gradient","orient":"none","legendX":462,"legendY":105,"gradientLength":123,"gradientThickness":32,"title":null,"values":[-8,-7,-6,-5,-4,-3],"labelExpr":"'1e' + datum.value","labelFontSize":12,"labelColor":"#333333","labelOverlap":false,"labelOffset":2}}}},
{"data":{"name":"black"},"mark":{"type":"rect","fill":"#000000"},"encoding":{"x2":{"field":"x2"},"y2":{"field":"y2"}}},
{"data":{"name":"blackR"},"mark":{"type":"rect","fill":"#000000"},"encoding":{"x2":{"field":"x2"},"y2":{"field":"y2"}}},
{"data":{"name":"lbd"},"mark":{"type":"rect","opacity":0.4},"encoding":{"x2":{"field":"x2"},"y2":{"field":"y2"},"color":{"field":"v","type":"quantitative","scale":{"domain":[-8,-7.4,-6.3,-5.1,-4,-3],"range":["#000080","#0000ff","#00ffff","#ffff00","#ff2000","#800000"]},"legend":null}}},
{"data":{"name":"lbs"},"mark":{"type":"square","size":3,"opacity":1},"encoding":{"color":{"field":"v","type":"quantitative","scale":{"domain":[-8,-7.4,-6.3,-5.1,-4,-3],"range":["#000080","#0000ff","#00ffff","#ffff00","#ff2000","#800000"]},"legend":null}}},
{"data":{"values":[{"x":5.94,"y":16.35,"t":"Aerosol backscatter cross section m⁻¹str⁻¹  18-Dec-2005"}]},"mark":{"type":"text","fontSize":11.8,"color":"#333333"},"encoding":{"text":{"field":"t"}}},
{"data":{"values":[{"x":12,"y":15.28,"t":"YEU-20051218-0000"}]},"mark":{"type":"text","fontSize":6,"align":"right","color":"#999999"},"encoding":{"text":{"field":"t"}}},
{"data":{"values":[{"x":13.24,"y":-1.21,"t":"1 / (m str)"}]},"mark":{"type":"text","fontSize":12,"color":"#333333"},"encoding":{"text":{"field":"t"}}}
]},
{"encoding":{
"x":{"field":"x","type":"quantitative","scale":{"domain":[0,12],"range":[68,439.5],"nice":false},"axis":{"zindex":1,"orient":"bottom","offset":-371.3,"values":[1,2,3,4,5,6,7,8,9,10,11],"title":"Time (UT)","titleFontSize":13,"titleColor":"#333333","titlePadding":0,"domain":false,"tickSize":-3,"labelPadding":8,"labelFontSize":12,"labelColor":"#333333","tickColor":"#222222"}},
"y":{"field":"y","type":"quantitative","scale":{"domain":[0.1,14.8],"range":[396.7,273.4],"nice":false},"axis":{"zindex":1,"orient":"left","offset":-68,"values":[1,2,3,4,5,6,7,8,9,10,11,12,13,14],"format":".1f","labelOverlap":false,"title":"Altitude (km)","titleFontSize":13,"titleColor":"#333333","titlePadding":7,"domain":false,"ticks":false,"labelPadding":2,"labelFontSize":9,"labelColor":"#333333"}}},
"layer":[
{"data":{"values":[{"x":0,"x2":12,"y":0.1,"y2":14.8}]},"mark":{"type":"rect","fill":"#000000"},"encoding":{"x2":{"field":"x2"},"y2":{"field":"y2"}}},
{"data":{"name":"pdd"},"mark":{"type":"rect","opacity":0.5},"encoding":{"x2":{"field":"x2"},"y2":{"field":"y2"},"color":{"field":"v","type":"quantitative","scale":{"type":"log","domain":[1,2.5,8,30,110,255],"range":["#000080","#0000ff","#00ffff","#ffff00","#ff0000","#800000"]},"legend":{"type":"gradient","orient":"none","legendX":462,"legendY":273.4,"gradientLength":123.3,"gradientThickness":32,"gradientOpacity":1,"title":null,"values":[1,2,5,10,20,50,100,200],"labelExpr":"datum.value==200?'2e2':datum.value==100?'1e2':datum.value","labelFontSize":12,"labelColor":"#333333","labelOverlap":false,"labelOffset":2}}}},
{"data":{"name":"hatch"},"mark":{"type":"rect","fill":"#000000"},"encoding":{"x2":{"field":"x2"},"y2":{"field":"y2"}}},
{"data":{"name":"pd"},"mark":"rect","encoding":{"x2":{"field":"x2"},"y2":{"field":"y2"},"color":{"field":"v","type":"quantitative","scale":{"type":"log","domain":[1,2.5,8,30,110,255],"range":["#000080","#0000ff","#00ffff","#ffff00","#ff0000","#800000"]},"legend":null}}},
{"data":{"name":"black"},"mark":{"type":"rect","fill":"#000000"},"encoding":{"x2":{"field":"x2"},"y2":{"field":"y2"}}},
{"data":{"name":"pds"},"mark":{"type":"square","size":3},"encoding":{"color":{"field":"v","type":"quantitative","scale":{"type":"log","domain":[1,2.5,8,30,110,255],"range":["#000080","#0000ff","#00ffff","#ffff00","#ff0000","#800000"]},"legend":null}}},
{"data":{"values":[{"x":5.94,"y":16.35,"t":"Particulate circular depolarization ratio(%)  18-Dec-2005"}]},"mark":{"type":"text","fontSize":11.8,"color":"#333333"},"encoding":{"text":{"field":"t"}}},
{"data":{"values":[{"x":12,"y":15.28,"t":"YEU-20051218-0000"}]},"mark":{"type":"text","fontSize":6,"align":"right","color":"#999999"},"encoding":{"text":{"field":"t"}}},
{"data":{"values":[{"x":13.24,"y":-1.13,"t":"%"}]},"mark":{"type":"text","fontSize":12,"color":"#333333"},"encoding":{"text":{"field":"t"}}}
]},
{"encoding":{
"x":{"field":"x","type":"quantitative","scale":{"domain":[0,24],"range":[597,938.3],"nice":false},"axis":{"zindex":1,"orient":"bottom","offset":-506.3,"values":[0,1,2,3,4,5,6,7,8,9,10,11,12,13,14,15,16,17,18,19,20,21,22,23,24],"labelExpr":"datum.value%5==0?datum.value:''","title":null,"domain":false,"tickSize":-3,"labelPadding":6,"labelFontSize":8,"labelFont":"DejaVu Sans","labelColor":"#b0b0b0","tickColor":"#b0b0b0","labelOverlap":false}},
"y":{"field":"y","type":"quantitative","scale":{"domain":[136.3,217.3],"range":[261.7,76.7],"nice":false},"axis":{"zindex":1,"orient":"left","offset":-597,"values":[140,150,160,170,180,190,200,210],"labelExpr":"datum.value%20==0?datum.value:''","labelAngle":270,"labelAlign":"center","labelBaseline":"bottom","title":"Thermal Irradiance (W/m²)","titleFont":"DejaVu Sans","titleFontSize":7.5,"titleColor":"#b0b0b0","titlePadding":4,"domain":false,"tickSize":-4,"labelPadding":6,"labelFontSize":8,"labelFont":"DejaVu Sans","labelColor":"#b0b0b0","tickColor":"#b0b0b0","labelOverlap":false}}},
"layer":[
{"data":{"values":[{"x":-3.02,"x2":27.07,"y":127.85,"y2":224.6}]},"mark":{"type":"rect","fill":"#000000"},"encoding":{"x2":{"field":"x2"},"y2":{"field":"y2"}}},
{"data":{"values":[{"x":0,"x2":24,"y":136.3,"y2":217.3}]},"mark":{"type":"rect","fillOpacity":0,"stroke":"#b8b8b8","strokeWidth":1},"encoding":{"x2":{"field":"x2"},"y2":{"field":"y2"}}},
{"data":{"name":"upper"},"mark":{"type":"line","color":"#2f6f60","strokeWidth":1.2}},
{"data":{"name":"lower"},"mark":{"type":"line","color":"#84cc16","strokeWidth":1.3}},
{"data":{"values":[{"x":11.2,"y":136.3,"y2":217.3}]},"mark":{"type":"rule","color":"#b8b8b8","strokeDash":[6,4],"strokeWidth":1},"encoding":{"y2":{"field":"y2"}}},
{"data":{"name":"strip"},"mark":"rect","encoding":{"x2":{"field":"x2"},"y2":{"field":"y2"},"color":{"field":"s","type":"nominal","scale":{"domain":["on","off"],"range":["#0f8f1f","#b010e8"]},"legend":null}}},
{"data":{"values":[{"x":0,"y":222.1,"t":"18-DEC-2005"},{"x":0,"y":129.7,"t":"18-DEC-2005"}]},"mark":{"type":"text","font":"DejaVu Sans","fontSize":7.5,"align":"left","color":"#c0c0c0"},"encoding":{"text":{"field":"t"}}},
{"data":{"values":[{"x":24,"y":220.9,"t":"Longwave Radiation"},{"x":24,"y":128.7,"t":"Battery"}]},"mark":{"type":"text","font":"DejaVu Sans","fontSize":7.5,"align":"right","color":"#c0c0c0"},"encoding":{"text":{"field":"t"}}}
]},
{"encoding":{
"x":{"field":"x","type":"quantitative","scale":{"domain":[351.517,353.5],"range":[137.1,565],"nice":false},"axis":{"zindex":1,"orient":"bottom","offset":-60.6,"values":[351.6,351.7,351.8,351.9,352,352.1,352.2,352.3,352.4,352.5,352.6,352.7,352.8,352.9,353,353.1,353.2,353.3,353.4,353.5],"labelExpr":"indexof(['352','352.5','353','353.5'],''+datum.value)>=0?format(datum.value,'.1f'):''","title":"DOY (351 = 051217)","titleFont":"DejaVu Sans","titleFontSize":12.5,"titleColor":"#444444","titlePadding":-3,"tickSize":-4,"labelPadding":9,"labelFontSize":14,"labelColor":"#444444","tickColor":"#333333","domainColor":"#333333","labelOverlap":false}},
"y":{"field":"y","type":"quantitative","scale":{"domain":[96,871],"range":[707.4,490.4],"nice":false},"axis":{"zindex":1,"orient":"left","offset":-137.1,"values":[100,150,200,250,300,350,400,450,500,550,600,650,700,750,800,850],"labelExpr":"datum.value%200==0?datum.value:''","title":null,"tickSize":-4,"labelPadding":8,"labelFontSize":14,"labelColor":"#444444","tickColor":"#333333","domainColor":"#333333","labelOverlap":false}}},
"layer":[
{"data":{"values":[{"x":351.153,"x2":353.577,"y":-4,"y2":935}]},"mark":{"type":"rect","fill":"#b4b4b4","stroke":"#000000","strokeWidth":3},"encoding":{"x2":{"field":"x2"},"y2":{"field":"y2"}}},
{"data":{"values":[{"x":351.517,"x2":353.5,"y":96,"y2":871}]},"mark":{"type":"rect","fillOpacity":0,"stroke":"#333333","strokeWidth":1},"encoding":{"x2":{"field":"x2"},"y2":{"field":"y2"}}},
{"data":{"name":"cn"},"mark":{"type":"line","color":"#3030d8","strokeWidth":1}},
{"data":{"values":[{"x":352.977,"y":820},{"x":353.067,"y":820}]},"mark":{"type":"line","color":"#3030d8","strokeWidth":1}},
{"data":{"values":[{"x":353.08,"y":820,"t":"refcnc_clean"}]},"mark":{"type":"text","fontSize":6.5,"align":"left","color":"#3030d8"},"encoding":{"text":{"field":"t"}}},
{"data":{"values":[{"x":352.509,"y":905,"t":"CN number concentration (1/cc)"}]},"mark":{"type":"text","font":"DejaVu Sans","fontSize":13.5,"color":"#444444"},"encoding":{"text":{"field":"t"}}},
{"data":{"values":[{"x":351.169,"y":911,"t":"ALT"}]},"mark":{"type":"text","font":"DejaVu Serif","fontStyle":"italic","fontWeight":"bold","fontSize":6,"align":"left","color":"#222222"},"encoding":{"text":{"field":"t"}}},
{"data":{"values":[{"x":353.566,"y":922,"t":"NOAA/CMDL Aerosol Group"}]},"mark":{"type":"text","font":"DejaVu Serif","fontStyle":"italic","fontWeight":"bold","fontSize":5,"align":"right","color":"#222222"},"encoding":{"text":{"field":"t"}}},
{"data":{"values":[{"x":351.183,"y":7,"t":"/der/dtl/kerr/fs_all.eft"}]},"mark":{"type":"text","fontSize":4.5,"align":"left","color":"#222222"},"encoding":{"text":{"field":"t"}}},
{"data":{"values":[{"x":353.566,"y":7,"t":"printed on Mon Dec 19 05:17:44 2005"}]},"mark":{"type":"text","fontSize":4.5,"align":"right","color":"#222222"},"encoding":{"text":{"field":"t"}}}
]},
{"encoding":{
"x":{"field":"x","type":"quantitative","scale":{"domain":[0,24],"range":[633,940.7],"nice":false},"axis":{"zindex":1,"orient":"bottom","offset":-319,"values":[1,2,3,4,5,6,7,8,9,10,11,12,13,14,15,16,17,18,19,20,21,22,23],"labels":false,"title":null,"tickSize":-2,"tickColor":"#222222","domainColor":"#222222"}},
"y":{"field":"y","type":"quantitative","scale":{"domain":[-0.15,13.05],"range":[449,331.7],"nice":false},"axis":{"zindex":1,"orient":"left","offset":-633,"values":[0,2,4,6,8,10,12],"title":null,"tickSize":-4,"tickColor":"#222222","domainColor":"#222222","labelPadding":6,"labelFontSize":7.5,"labelFont":"DejaVu Sans","labelColor":"#333333"}}},
"layer":[
{"data":{"values":[{"x":-2.8,"x2":28.3,"y":-29.9,"y2":14.98}]},"mark":{"type":"rect","fill":"#f8fbf8","stroke":"#000000","strokeWidth":3.5},"encoding":{"x2":{"field":"x2"},"y2":{"field":"y2"}}},
{"data":{"name":"dots"},"mark":{"type":"square","size":2,"color":"#a0a8a8"}},
{"data":{"name":"cloud"},"mark":"rect","encoding":{"x2":{"field":"x2"},"y2":{"field":"y2"},"color":{"field":"r","type":"quantitative","scale":{"domain":[-50,-40,-30,-22,-13,-5,10,20],"range":["#000080","#004d6e","#009040","#30ff00","#ffff00","#ffa500","#e04800","#800000"]},"legend":{"type":"gradient","orient":"none","legendX":948.3,"legendY":335,"gradientLength":94,"gradientThickness":12.4,"title":null,"values":[-50,-40,-30,-20,-10,0,10,20],"format":".1f","labelFontSize":7,"labelFont":"DejaVu Sans","labelColor":"#333333","labelOverlap":false,"labelOffset":1}}}},
{"data":{"values":[{"x":0,"x2":24,"y":-0.15,"y2":13.05}]},"mark":{"type":"rect","fillOpacity":0,"stroke":"#222222","strokeWidth":1},"encoding":{"x2":{"field":"x2"},"y2":{"field":"y2"}}},
{"data":{"values":[{"x":0.55,"y":11.77,"t":"Reflectivity"}]},"mark":{"type":"text","font":"DejaVu Serif","fontWeight":"bold","fontSize":11,"align":"left","color":"#111111"},"encoding":{"text":{"field":"t"}}},
{"data":{"values":[{"x":12,"y":13.8,"t":"EUREKA, Millimeter cloud radar data for December 14, 2005"}]},"mark":{"type":"text","font":"DejaVu Sans","fontSize":7.8,"color":"#222222"},"encoding":{"text":{"field":"t"}}},
{"data":{"values":[{"x":25.1,"y":1.2,"t":"dBZ"}]},"mark":{"type":"text","font":"DejaVu Sans","fontSize":7,"color":"#333333"},"encoding":{"text":{"field":"t"}}}
]},
{"encoding":{
"x":{"field":"x","type":"quantitative","scale":{"domain":[0,24],"range":[633,940.7],"nice":false},"axis":{"zindex":1,"orient":"bottom","offset":-200.7,"values":[1,2,3,4,5,6,7,8,9,10,11,12,13,14,15,16,17,18,19,20,21,22,23],"labels":false,"title":null,"tickSize":-2,"tickColor":"#222222","domainColor":"#222222"}},
"y":{"field":"y","type":"quantitative","scale":{"domain":[-0.15,13.05],"range":[567.3,449.8],"nice":false},"axis":{"zindex":1,"orient":"left","offset":-633,"values":[0,2,4,6,8,10,12],"title":"Height AGL (km)","titleFont":"DejaVu Sans","titleFontWeight":"bold","titleFontSize":7.5,"titleColor":"#222222","titlePadding":3,"tickSize":-4,"tickColor":"#222222","domainColor":"#222222","labelPadding":6,"labelFontSize":7.5,"labelFont":"DejaVu Sans","labelColor":"#333333"}}},
"layer":[
{"data":{"name":"dots"},"mark":{"type":"square","size":1.5,"color":"#b8c0c0"}},
{"data":{"name":"cloud"},"mark":"rect","encoding":{"x2":{"field":"x2"},"y2":{"field":"y2"},"color":{"field":"d","type":"quantitative","scale":{"domain":[-2.7,-1.8,-0.9,-0.3,0.2,0.9,1.8,2.7],"range":["#000080","#004d6e","#009040","#30ff00","#ffff00","#ffa500","#e04800","#800000"]},"legend":{"type":"gradient","orient":"none","legendX":948.3,"legendY":453.3,"gradientLength":94,"gradientThickness":12.4,"title":null,"values":[-2.7,-1.8,-0.9,0,0.9,1.8,2.7],"labelExpr":"datum.value==2.7?'2.7 down':datum.value==-2.7?'-2.7 up':format(datum.value,'.1f')","labelFontSize":6.5,"labelFont":"DejaVu Sans","labelColor":"#333333","labelOverlap":false,"labelOffset":1}}}},
{"data":{"values":[{"x":0,"x2":24,"y":-0.15,"y2":13.05}]},"mark":{"type":"rect","fillOpacity":0,"stroke":"#222222","strokeWidth":1},"encoding":{"x2":{"field":"x2"},"y2":{"field":"y2"}}},
{"data":{"values":[{"x":0.55,"y":11.67,"t":"Doppler Velocity"}]},"mark":{"type":"text","font":"DejaVu Serif","fontWeight":"bold","fontSize":11,"align":"left","color":"#111111"},"encoding":{"text":{"field":"t"}}},
{"data":{"values":[{"x":25.1,"y":1.12,"t":"m/s"}]},"mark":{"type":"text","font":"DejaVu Sans","fontSize":7,"color":"#333333"},"encoding":{"text":{"field":"t"}}}
]},
{"encoding":{
"x":{"field":"x","type":"quantitative","scale":{"domain":[0,24],"range":[633,940.7],"nice":false},"axis":{"zindex":1,"orient":"bottom","offset":-83,"values":[1,2,3,4,5,6,7,8,9,10,11,12,13,14,15,16,17,18,19,20,21,22,23],"labelExpr":"datum.value%5==0?(datum.value<10?'0':'')+datum.value+':00':''","title":"Time (hours, GMT)","titleFont":"DejaVu Sans","titleFontSize":7.5,"titleColor":"#333333","titlePadding":1,"tickSize":-2,"tickColor":"#222222","domainColor":"#222222","labelPadding":7,"labelFontSize":7.5,"labelFont":"DejaVu Sans","labelColor":"#333333","labelOverlap":false}},
"y":{"field":"y","type":"quantitative","scale":{"domain":[-0.15,13.05],"range":[685,567.5],"nice":false},"axis":{"zindex":1,"orient":"left","offset":-633,"values":[0,2,4,6,8,10,12],"title":null,"tickSize":-4,"tickColor":"#222222","domainColor":"#222222","labelPadding":6,"labelFontSize":7.5,"labelFont":"DejaVu Sans","labelColor":"#333333"}}},
"layer":[
{"data":{"name":"dots"},"mark":{"type":"square","size":2,"color":"#8090a8"}},
{"data":{"name":"dots2"},"mark":{"type":"square","size":2,"color":"#305080"}},
{"data":{"name":"cloud"},"mark":"rect","encoding":{"x2":{"field":"x2"},"y2":{"field":"y2"},"color":{"field":"w","type":"quantitative","scale":{"domain":[0,0.12,0.3,0.5,0.75,1,1.25,1.5],"range":["#000080","#004d6e","#009040","#30ff00","#ffff00","#ffa500","#e04800","#800000"]},"legend":{"type":"gradient","orient":"none","legendX":948.3,"legendY":571.7,"gradientLength":94,"gradientThickness":12.4,"title":null,"values":[0,0.25,0.5,0.75,1,1.25,1.5],"format":".2f","labelFontSize":7,"labelFont":"DejaVu Sans","labelColor":"#333333","labelOverlap":false,"labelOffset":1}}}},
{"data":{"values":[{"x":0,"x2":24,"y":-0.15,"y2":13.05}]},"mark":{"type":"rect","fillOpacity":0,"stroke":"#222222","strokeWidth":1},"encoding":{"x2":{"field":"x2"},"y2":{"field":"y2"}}},
{"data":{"values":[{"x":0.55,"y":11.69,"t":"Spectral Width"}]},"mark":{"type":"text","font":"DejaVu Serif","fontWeight":"bold","fontSize":11,"align":"left","color":"#111111"},"encoding":{"text":{"field":"t"}}},
{"data":{"values":[{"x":25.1,"y":1.08,"t":"m/s"}]},"mark":{"type":"text","font":"DejaVu Sans","fontSize":7,"color":"#333333"},"encoding":{"text":{"field":"t"}}}
]}
]
}
